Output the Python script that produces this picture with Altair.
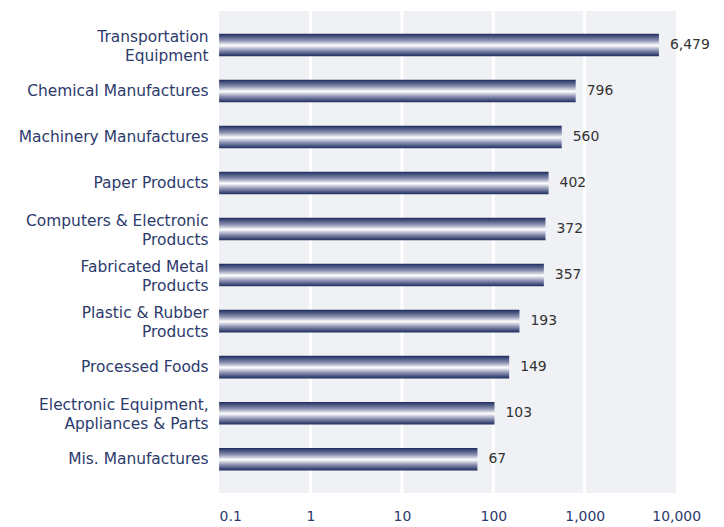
import altair as alt
import pandas as pd

categories = [
    "Transportation|Equipment",
    "Chemical Manufactures",
    "Machinery Manufactures",
    "Paper Products",
    "Computers & Electronic|Products",
    "Fabricated Metal|Products",
    "Plastic & Rubber|Products",
    "Processed Foods",
    "Electronic Equipment,|Appliances & Parts",
    "Mis. Manufactures",
]
values = [6479, 796, 560, 402, 372, 357, 193, 149, 103, 67]
tick_values = [0.1, 1, 10, 100, 1000, 10000]
grid_values = [1, 10, 100, 1000]

df = pd.DataFrame({"category": categories, "value": values})
df["base"] = 0.1
grid_df = pd.DataFrame({"g": grid_values})

NAVY = "#2c3a6c"
FONT = "DejaVu Sans"
H = 484

xscale = alt.Scale(type="log", domain=[0.1, 10000])

grid = alt.Chart(grid_df).mark_rule(color="white", strokeWidth=3).encode(
    x=alt.X("g:Q", scale=xscale),
    y=alt.value(0),
    y2=alt.value(H),
)

bars = alt.Chart(df).mark_bar(
    fill=alt.Gradient(
        gradient="linear",
        stops=[
            alt.GradientStop(color="#1d2b5e", offset=0),
            alt.GradientStop(color="#8a90b0", offset=0.3),
            alt.GradientStop(color="#ffffff", offset=0.52),
            alt.GradientStop(color="#8a90b0", offset=0.75),
            alt.GradientStop(color="#1d2b5e", offset=1),
        ],
        x1=0, x2=0, y1=0, y2=1,
    )
).encode(
    y=alt.Y(
        "category:N",
        sort=None,
        scale=alt.Scale(paddingInner=0.51, paddingOuter=0.49),
        axis=alt.Axis(
            title=None,
            domain=False,
            ticks=False,
            labelPadding=11,
            labelFontSize=15.5,
            labelFont=FONT,
            labelColor=NAVY,
            labelLimit=300,
            labelLineHeight=19,
            labelExpr="split(datum.label, '|')",
            labelOffset={
                "condition": {"test": "indexof(datum.value, '|') >= 0", "value": -8},
                "value": 0,
            },
        ),
    ),
    x=alt.X(
        "value:Q",
        scale=xscale,
        axis=alt.Axis(
            title=None,
            values=tick_values,
            format=",",
            grid=False,
            domain=False,
            ticks=False,
            labelPadding=17,
            labelFontSize=14,
            labelFont=FONT,
            labelColor=NAVY,
            labelAlign={"expr": "datum.value < 0.5 ? 'left' : 'center'"},
        ),
    ),
    x2="base:Q",
)

text = alt.Chart(df).mark_text(
    align="left", baseline="middle", dx=11, fontSize=14, font=FONT, color="#333333"
).encode(
    y=alt.Y("category:N", sort=None),
    x=alt.X("value:Q", scale=xscale),
    text=alt.Text("value:Q", format=","),
)

chart = alt.layer(grid, bars, text).properties(
    width=459,
    height=H,
    background="white",
    autosize=alt.AutoSizeParams(type="none"),
    padding={"left": 212, "top": 2, "right": 40, "bottom": 33},
).configure_view(fill="#f0f1f4", stroke=None)

chart.save("out.html", embed_options={"renderer": "svg", "actions": False})
